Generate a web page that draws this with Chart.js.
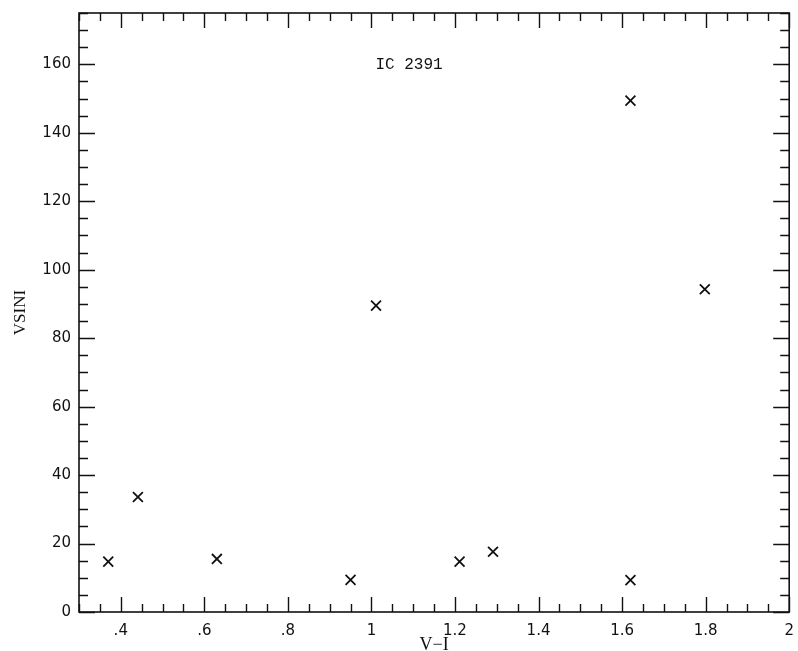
<!DOCTYPE html>
<html>
<head>
<meta charset="utf-8">
<script src="https://cdn.jsdelivr.net/npm/chart.js@4/dist/chart.umd.min.js"></script>
<style>
  html, body { margin: 0; padding: 0; background: #fff; }
  #wrap { width: 798px; height: 651px; }
</style>
</head>
<body>
<div id="wrap"><canvas id="c" width="798" height="651"></canvas></div>
<script>
// V-I colour and projected rotational velocity for IC 2391 members
const vMinusI = [0.370, 0.441, 0.630, 0.950, 1.011, 1.211, 1.291, 1.620, 1.620, 1.798];
const vsini   = [14.7, 33.6, 15.5, 9.4, 89.5, 14.7, 17.6, 9.3, 149.4, 94.3];

// Axis ranges and labelled tick values
const xRange = [0.3, 2.0];
const yRange = [0, 175];
const xMajorTicks = [0.4, 0.6, 0.8, 1.0, 1.2, 1.4, 1.6, 1.8, 2.0];
const xTickLabels = ['.4', '.6', '.8', '1', '1.2', '1.4', '1.6', '1.8', '2'];
const yMajorTicks = [0, 20, 40, 60, 80, 100, 120, 140, 160];
const yTickLabels = ['0', '20', '40', '60', '80', '100', '120', '140', '160'];
const xMinorStep = 0.05;
const yMinorStep = 5;

const clusterName = 'IC 2391';
const clusterNamePos = { x: 1.09, y: 160 };

const points = vMinusI.map((v, i) => ({ x: v, y: vsini[i] }));

function stepValues(lo, hi, step) {
  const out = [];
  const n = Math.round((hi - lo) / step);
  for (let i = 0; i <= n; i++) out.push(+(lo + i * step).toFixed(6));
  return out;
}
function isMajor(v, majors) {
  return majors.some(m => Math.abs(m - v) < 1e-6);
}

// Box frame with inward ticks on all four sides, plus the cluster name
const frameTicks = {
  id: 'frameTicks',
  afterDatasetsDraw(chart) {
    const { ctx, chartArea: a, scales: { x, y } } = chart;
    ctx.save();
    ctx.strokeStyle = '#111';
    ctx.lineWidth = 1.6;
    ctx.strokeRect(a.left, a.top, a.right - a.left, a.bottom - a.top);
    ctx.lineWidth = 1.4;
    ctx.beginPath();
    stepValues(xRange[0], xRange[1], xMinorStep).forEach(v => {
      const px = Math.round(x.getPixelForValue(v)) + 0.5;
      const len = isMajor(v, xMajorTicks) ? 15 : 8;
      ctx.moveTo(px, a.bottom); ctx.lineTo(px, a.bottom - len);
      ctx.moveTo(px, a.top); ctx.lineTo(px, a.top + len);
    });
    stepValues(yRange[0], yRange[1], yMinorStep).forEach(v => {
      const py = Math.round(y.getPixelForValue(v)) + 0.5;
      const len = isMajor(v, yMajorTicks) ? 16 : 9;
      ctx.moveTo(a.left, py); ctx.lineTo(a.left + len, py);
      ctx.moveTo(a.right, py); ctx.lineTo(a.right - len, py);
    });
    ctx.stroke();

    ctx.fillStyle = '#111';
    ctx.font = '16px "Liberation Mono", "DejaVu Sans Mono", monospace';
    ctx.textAlign = 'center';
    ctx.textBaseline = 'middle';
    ctx.fillText(clusterName, x.getPixelForValue(clusterNamePos.x), y.getPixelForValue(clusterNamePos.y));
    ctx.restore();
  }
};

new Chart(document.getElementById('c'), {
  type: 'scatter',
  data: {
    datasets: [{
      data: points,
      pointStyle: 'crossRot',
      pointRadius: 7,
      pointHoverRadius: 7,
      borderColor: '#111',
      backgroundColor: '#111',
      pointBorderWidth: 1.8
    }]
  },
  options: {
    responsive: false,
    animation: false,
    events: [],
    layout: { padding: { left: 0, top: 13, right: 2, bottom: 0 } },
    plugins: { legend: { display: false }, tooltip: { enabled: false } },
    scales: {
      x: {
        type: 'linear',
        min: xRange[0],
        max: xRange[1],
        grid: { display: false, drawTicks: false },
        border: { display: false },
        afterBuildTicks: s => { s.ticks = xMajorTicks.map(v => ({ value: v })); },
        afterFit: s => { s.height = 39; s.paddingLeft = 0; s.paddingRight = 0; },
        ticks: {
          autoSkip: false,
          maxRotation: 0,
          padding: 10,
          color: '#111',
          font: { family: '"DejaVu Sans", sans-serif', size: 15 },
          callback: (v) => {
            const i = xMajorTicks.findIndex(m => Math.abs(m - v) < 1e-6);
            return i >= 0 ? xTickLabels[i] : '';
          }
        },
        title: {
          display: true,
          text: 'V\u2212I',
          color: '#111',
          font: { family: '"Liberation Serif", serif', size: 18 },
          padding: { top: 0, bottom: -5 }
        }
      },
      y: {
        type: 'linear',
        min: yRange[0],
        max: yRange[1],
        grid: { display: false, drawTicks: false },
        border: { display: false },
        afterBuildTicks: s => { s.ticks = yMajorTicks.map(v => ({ value: v })); },
        afterFit: s => { s.width = 79; s.paddingTop = 0; s.paddingBottom = 0; },
        ticks: {
          autoSkip: false,
          padding: 8,
          color: '#111',
          font: { family: '"DejaVu Sans", sans-serif', size: 15 },
          callback: (v) => {
            const i = yMajorTicks.findIndex(m => Math.abs(m - v) < 1e-6);
            return i >= 0 ? yTickLabels[i] : '';
          }
        },
        title: {
          display: true,
          text: 'VSINI',
          color: '#111',
          font: { family: '"Liberation Serif", serif', size: 17 },
          padding: { top: 10, bottom: 0 }
        }
      }
    }
  },
  plugins: [frameTicks]
});
</script>
</body>
</html>
